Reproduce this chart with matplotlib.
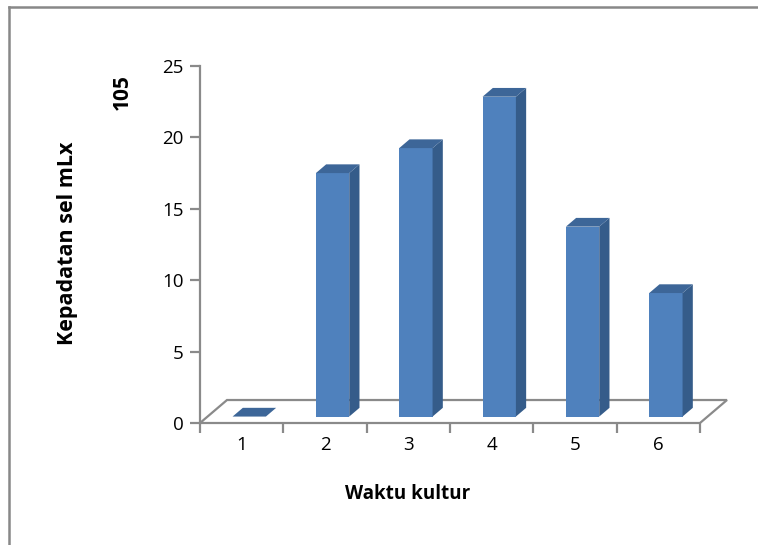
import numpy as np
import matplotlib
matplotlib.use('Agg')
from matplotlib import pyplot as plt
from matplotlib.patches import Polygon

# data
categories = ['1', '2', '3', '4', '5', '6']
values = [0.0, 17.05, 18.8, 22.4, 13.3, 8.65]
y_ticks = [0, 5, 10, 15, 20, 25]

# oblique "3d" look: offset of the back of the floor, in data units
depth_dx = 0.324
depth_dy = 1.61
bar_half = 0.2
bar_d0, bar_d1 = 0.28, 0.66

c_front = '#4F81BD'
c_side = '#355C8A'
c_top = '#3D6698'
c_axis = '#8A8A8A'

plt.rcParams['font.family'] = ['Open Sans', 'DejaVu Sans']

W, H = 758, 545
fig = plt.figure(figsize=(W / 100, H / 100), dpi=100)
ax = fig.add_axes([200 / W, 122 / H, 500 / W, 357 / H])

n = len(categories)
x = np.arange(1, n + 1)
ax.set_xlim(0.5, n + 0.5)
ax.set_ylim(0, 25)


def shift(px, py, d):
    return (px + d * depth_dx, py + d * depth_dy)


# floor outline
x0, x1 = 0.5, n + 0.5
floor = [shift(x0, 0, 0), shift(x1, 0, 0), shift(x1, 0, 1), shift(x0, 0, 1)]
ax.add_patch(Polygon(floor, closed=True, fill=False, edgecolor=c_axis,
                     linewidth=1.6, clip_on=False, zorder=1))

for xi, v in zip(x, values):
    l, r = xi - bar_half, xi + bar_half
    front = [shift(l, 0, bar_d0), shift(r, 0, bar_d0), shift(r, v, bar_d0), shift(l, v, bar_d0)]
    side = [shift(r, 0, bar_d0), shift(r, 0, bar_d1), shift(r, v, bar_d1), shift(r, v, bar_d0)]
    top = [shift(l, v, bar_d0), shift(r, v, bar_d0), shift(r, v, bar_d1), shift(l, v, bar_d1)]
    if v > 0:
        ax.add_patch(Polygon(front, closed=True, facecolor=c_front, edgecolor='none', zorder=3, clip_on=False))
        ax.add_patch(Polygon(side, closed=True, facecolor=c_side, edgecolor='none', zorder=3, clip_on=False))
    ax.add_patch(Polygon(top, closed=True, facecolor=c_top, edgecolor='none', zorder=3, clip_on=False))

# axes styling
for s in ['top', 'right', 'bottom']:
    ax.spines[s].set_visible(False)
ax.spines['left'].set_color(c_axis)
ax.spines['left'].set_linewidth(1.6)
ax.set_facecolor('none')

ax.set_yticks(y_ticks)
ax.tick_params(axis='y', length=7, width=1.6, color=c_axis, pad=5, labelsize=13.5, labelcolor='black')
ax.set_xticks(np.arange(0.5, n + 1, 1.0))
ax.set_xticklabels([])
ax.set_xticks(x, minor=True)
ax.set_xticklabels(categories, minor=True)
ax.tick_params(axis='x', which='major', length=7, width=1.6, color=c_axis)
ax.tick_params(axis='x', which='minor', length=0, pad=9, labelsize=13.5)

fig.text(67 / W, 1 - 243 / H, 'Kepadatan sel mLx', rotation=90, fontsize=15.5,
         fontweight='bold', ha='center', va='center')
fig.text(122 / W, 1 - 92 / H, '105', rotation=90, fontsize=15,
         fontweight='bold', ha='center', va='center')
fig.text(408 / W, 1 - 494 / H, 'Waktu kultur', fontsize=13.5,
         fontweight='bold', ha='center', va='center')

# outer chart frame (only top and left edges fall inside the picture)
fig.add_artist(plt.Line2D([9 / W, 9 / W], [0, 1 - 7 / H], color='#888888', linewidth=1.8))
fig.add_artist(plt.Line2D([9 / W, 1], [1 - 7 / H, 1 - 7 / H], color='#888888', linewidth=1.8))

fig.savefig('out.png', dpi=100)
